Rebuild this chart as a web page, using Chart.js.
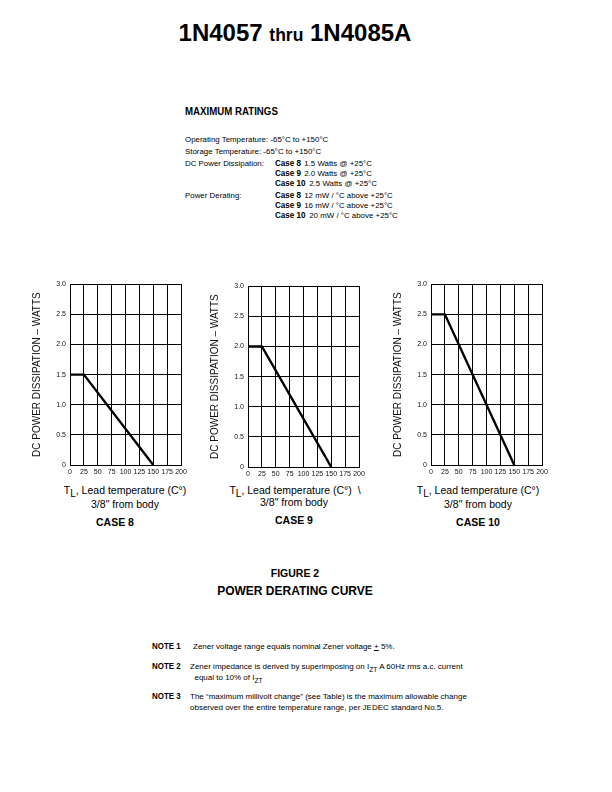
<!DOCTYPE html>
<html>
<head>
<meta charset="utf-8">
<script src="https://cdn.jsdelivr.net/npm/chart.js@4.4.0/dist/chart.umd.min.js"></script>
<style>
  body { margin: 0; background: #fff; font-family: "Liberation Sans", Arial, sans-serif; color: #000; }
  #page { position: relative; width: 612px; height: 792px; overflow: hidden; }
  .abs { position: absolute; white-space: nowrap; }
  .cond { display: inline-block; transform: scaleX(0.88); transform-origin: left center; }
  sub { line-height: 0; }
  canvas { position: absolute; }
  .cap { position: absolute; text-align: center; font-size: 10.5px; line-height: 12px; }
  .cap b { font-size: 10.5px; }
  .rt { font-size: 7.9px; }
  .rt b { font-size: 9px; font-weight: bold; display: inline-block; transform: scaleX(0.9); transform-origin: left center; margin-right: -2px; }
  .note { font-size: 8px; line-height: 11px; }
</style>
</head>
<body>
<div id="page">
  <div class="abs" style="left:0;width:590px;top:19px;text-align:center;font-weight:bold;font-size:24px;">1N4057 <span style="font-size:17.5px">thru</span> 1N4085A</div>

  <div class="abs" style="left:185px;top:105px;font-weight:bold;font-size:11px;"><span class="cond">MAXIMUM RATINGS</span></div>
  <div class="abs rt" style="left:185px;top:135px;">Operating Temperature: -65°C to +150°C</div>
  <div class="abs rt" style="left:185px;top:147px;">Storage Temperature: -65°C to +150°C</div>
  <div class="abs rt" style="left:185px;top:159px;">DC Power Dissipation:</div>
  <div class="abs rt" style="left:275px;top:158px;"><b>Case 8</b> 1.5 Watts @ +25°C</div>
  <div class="abs rt" style="left:275px;top:168px;"><b>Case 9</b> 2.0 Watts @ +25°C</div>
  <div class="abs rt" style="left:275px;top:178px;"><b>Case 10</b> 2.5 Watts @ +25°C</div>
  <div class="abs rt" style="left:185px;top:191px;">Power Derating:</div>
  <div class="abs rt" style="left:275px;top:190px;"><b>Case 8</b> 12 mW / °C above +25°C</div>
  <div class="abs rt" style="left:275px;top:200px;"><b>Case 9</b> 16 mW / °C above +25°C</div>
  <div class="abs rt" style="left:275px;top:210px;"><b>Case 10</b> 20 mW / °C above +25°C</div>

  <canvas id="c8" width="168" height="203" style="left:25px;top:276px;"></canvas>
  <canvas id="c9" width="168" height="203" style="left:203px;top:278px;"></canvas>
  <canvas id="c10" width="168" height="203" style="left:386px;top:276px;"></canvas>

  <div class="cap" style="left:55px;width:140px;top:484px;">T<sub style="font-size:10px">L</sub>, Lead temperature (C°)</div>
  <div class="cap" style="left:55px;width:140px;top:498px;">3/8" from body</div>
  <div class="cap" style="left:55px;width:120px;top:516px;"><b>CASE 8</b></div>

  <div class="cap" style="left:210px;width:170px;top:484px;">T<sub style="font-size:10px">L</sub>, Lead temperature (C°) &nbsp;\</div>
  <div class="cap" style="left:224px;width:140px;top:496px;">3/8" from body</div>
  <div class="cap" style="left:234px;width:120px;top:514px;"><b>CASE 9</b></div>

  <div class="cap" style="left:408px;width:140px;top:484px;">T<sub style="font-size:10px">L</sub>, Lead temperature (C°)</div>
  <div class="cap" style="left:408px;width:140px;top:498px;">3/8" from body</div>
  <div class="cap" style="left:418px;width:120px;top:516px;"><b>CASE 10</b></div>

  <div class="abs" style="left:0;width:590px;top:567px;text-align:center;font-weight:bold;font-size:10.5px;">FIGURE 2</div>
  <div class="abs" style="left:0;width:590px;top:584px;text-align:center;font-weight:bold;font-size:12px;">POWER DERATING CURVE</div>

  <div class="abs" style="left:152px;top:641px;font-weight:bold;font-size:9px;"><span class="cond">NOTE 1</span></div>
  <div class="abs note" style="left:193px;top:641px;">Zener voltage range equals nominal Zener voltage <u>+</u> 5%.</div>
  <div class="abs" style="left:152px;top:661px;font-weight:bold;font-size:9px;"><span class="cond">NOTE 2</span></div>
  <div class="abs note" style="left:190px;top:661px;">Zener impedance is derived by superimposing on I<sub>ZT</sub> A 60Hz rms a.c. current<br>&nbsp;&nbsp;equal to 10% of I<sub>ZT</sub></div>
  <div class="abs" style="left:152px;top:691px;font-weight:bold;font-size:9px;"><span class="cond">NOTE 3</span></div>
  <div class="abs note" style="left:190px;top:691px;">The “maximum millivolt change” (see Table) is the maximum allowable change<br>observed over the entire temperature range, per JEDEC standard No.5.</div>
</div>

<script>
// lead temperature (C) breakpoints and power (W) for each case
var tempC = [0, 25, 150];
var case8W = [1.5, 1.5, 0];
var case9W = [2.0, 2.0, 0];
var case10W = [2.5, 2.5, 0];
var xTicks = [0, 25, 50, 75, 100, 125, 150, 175, 200];
var yTicks = [0, 0.5, 1.0, 1.5, 2.0, 2.5, 3.0];

function toPoints(xs, ys) {
    var pts = [];
    for (var i = 0; i < xs.length; i++) {
        pts.push({x: xs[i], y: ys[i]});
    }
    return pts;
}

function drawCase(id, watts) {
    var ctx = document.getElementById(id).getContext('2d');
    new Chart(ctx, {
        type: 'line',
        data: {
            datasets: [{
                data: toPoints(tempC, watts),
                borderColor: '#000',
                borderWidth: 2.4,
                pointRadius: 0,
                tension: 0
            }]
        },
        options: {
            responsive: false,
            animation: false,
            layout: {padding: {top: 8, right: 12, left: 0, bottom: 0}},
            plugins: {legend: {display: false}, tooltip: {enabled: false}},
            scales: {
                x: {
                    type: 'linear',
                    min: 0,
                    max: 200,
                    afterBuildTicks: function (axis) {
                        axis.ticks = xTicks.map(function (v) { return {value: v}; });
                    },
                    afterFit: function (axis) { axis.height = 14; },
                    grid: {color: '#000', lineWidth: 1, drawTicks: false},
                    border: {color: '#000', width: 1},
                    ticks: {
                        padding: 3,
                        maxRotation: 0,
                        autoSkip: false,
                        color: '#111',
                        font: {family: 'Liberation Sans', size: 7}
                    }
                },
                y: {
                    min: 0,
                    max: 3,
                    afterBuildTicks: function (axis) {
                        axis.ticks = yTicks.map(function (v) { return {value: v}; });
                    },
                    afterFit: function (axis) { axis.width = 45; },
                    grid: {color: '#000', lineWidth: 1, drawTicks: false},
                    border: {color: '#000', width: 1},
                    ticks: {
                        padding: 4,
                        color: '#111',
                        font: {family: 'Liberation Sans', size: 7},
                        callback: function (v) { return v === 0 ? '0' : v.toFixed(1); }
                    },
                    title: {
                        display: true,
                        text: 'DC POWER DISSIPATION – WATTS',
                        color: '#111',
                        padding: {top: 6, bottom: 0},
                        font: {family: 'Liberation Sans', size: 10}
                    }
                }
            }
        },
        plugins: [{
            // closing frame on top and right like the datasheet box
            id: 'frame',
            afterDraw: function (chart) {
                var a = chart.chartArea, c = chart.ctx;
                c.save();
                c.strokeStyle = '#000';
                c.lineWidth = 1;
                c.strokeRect(Math.round(a.left) + 0.5, Math.round(a.top) + 0.5, Math.round(a.right - a.left), Math.round(a.bottom - a.top));
                c.restore();
            }
        }]
    });
}

drawCase('c8', case8W);
drawCase('c9', case9W);
drawCase('c10', case10W);
</script>
</body>
</html>
